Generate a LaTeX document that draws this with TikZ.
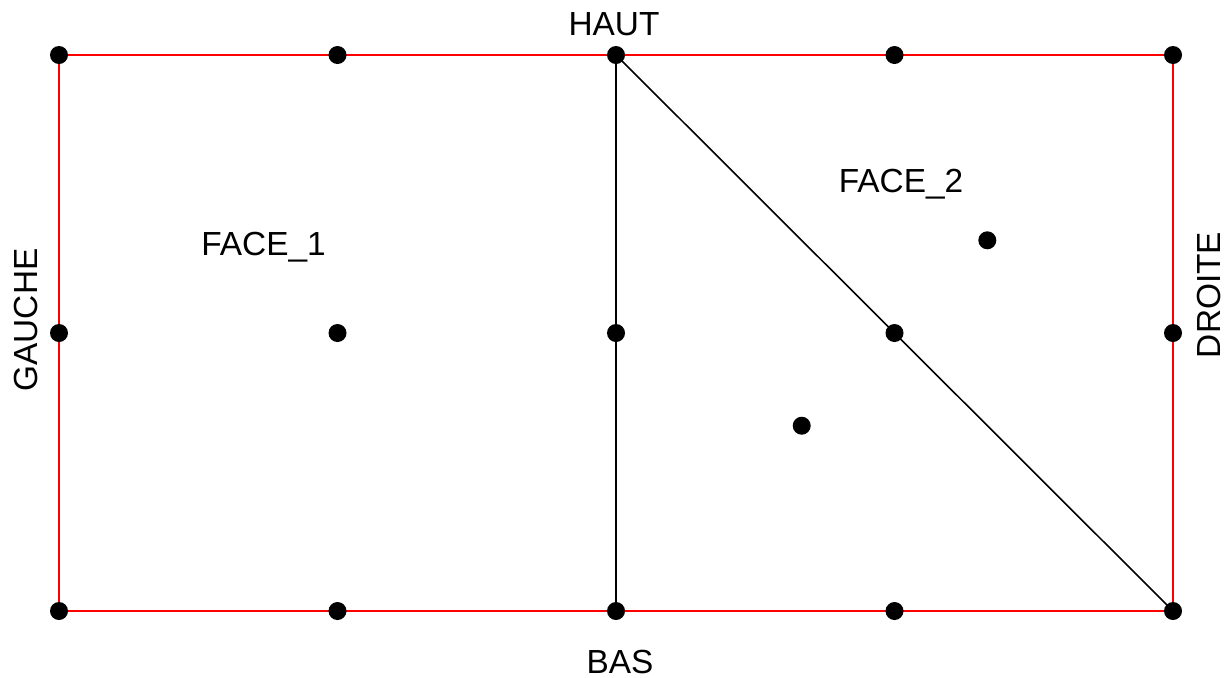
\documentclass[tikz,border=0pt]{standalone}
\usepackage{fontspec}
\setmainfont{Liberation Sans}

\begin{document}
\begin{tikzpicture}[
    bord/.style={red, line width=0.45pt},
    arete/.style={black, line width=0.45pt},
    pt/.style={circle, fill=black, inner sep=0pt, minimum size=0.18cm},
    lbl/.style={font=\fontsize{9.5}{11}\selectfont, anchor=base, inner sep=0pt},
]

    \useasboundingbox (0,0) rectangle (12.28,6.77);

    % grid points
    \foreach \i/\x in {0/0.59,1/3.375,2/6.16,3/8.945,4/11.73}
        \foreach \j/\y in {0/0.66,1/3.44,2/6.22}
            \coordinate (p\i\j) at (\x,\y);

    % inner edges
    \draw[arete] (p20) -- (p22);
    \draw[arete] (p22) -- (p40);

    % boundary
    \draw[bord] (p00) -- (p40) -- (p42) -- (p02) -- cycle;

    \foreach \i in {0,...,4}
        \foreach \j in {0,1,2}
            \node[pt] (n\i\j) at (p\i\j) {};
    \node[pt] (g1) at (8.017,2.513) {};
    \node[pt] (g2) at (9.873,4.367) {};

    \node[lbl] (haut) at (6.14,6.42) {HAUT};
    \node[lbl] (bas) at (6.20,0.04) {BAS};
    \node[lbl, rotate=90] (gauche) at (0.37,3.57) {GAUCHE};
    \node[lbl, rotate=90] (droite) at (12.20,3.82) {DROITE};
    \node[lbl] (face1) at (2.635,4.22) {FACE\_1};
    \node[lbl] (face2) at (9.01,4.85) {FACE\_2};

\end{tikzpicture}
\end{document}
